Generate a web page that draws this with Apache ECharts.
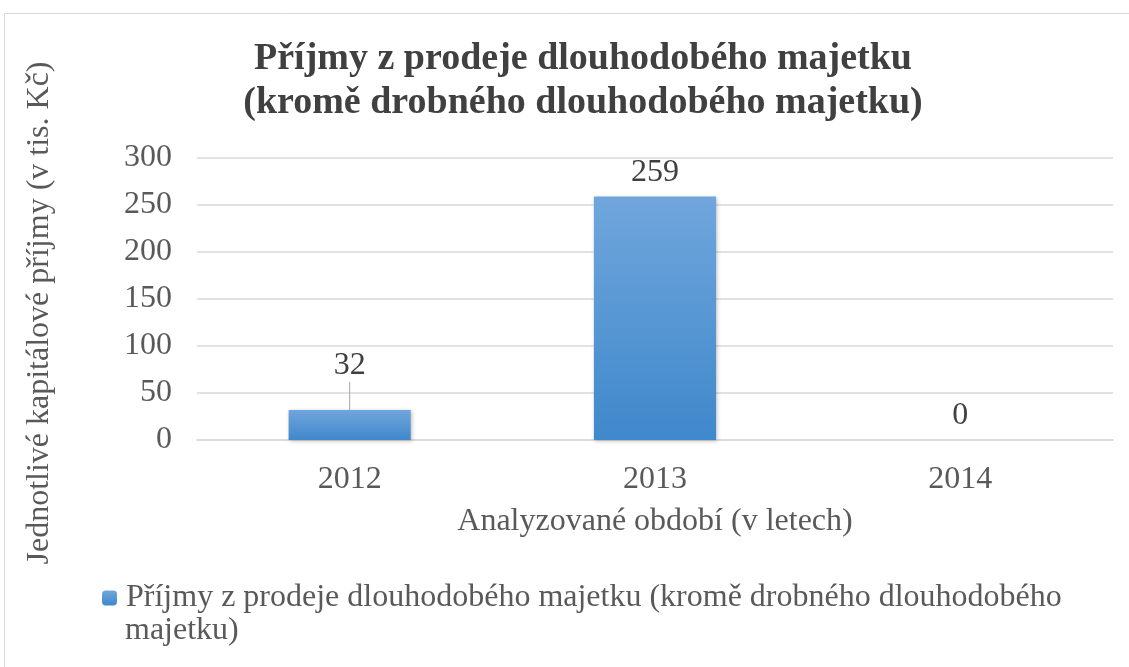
<!DOCTYPE html>
<html>
<head>
<meta charset="utf-8">
<script src="https://cdn.jsdelivr.net/npm/echarts@6/dist/echarts.min.js"></script>
<style>
  html, body { margin: 0; padding: 0; background: #fff; }
  #chart { width: 1129px; height: 667px; }
</style>
</head>
<body>
<div id="chart"></div>
<script>
const years = ['2012', '2013', '2014']
const values = [32, 259, 0]
const yTicks = [0, 50, 100, 150, 200, 250, 300]
const seriesName = 'Příjmy z prodeje dlouhodobého majetku (kromě drobného dlouhodobého majetku)'

const serif = '"Liberation Serif", "DejaVu Serif", serif'
const chart = echarts.init(document.getElementById('chart'))

// legenda se zalamuje na dva řádky, jako v originále
const legendLine1 = 'Příjmy z prodeje dlouhodobého majetku (kromě drobného dlouhodobého'
const legendLine2 = 'majetku)'

chart.setOption({
  animation: false,
  textStyle: { fontFamily: serif },
  title: {
    text: 'Příjmy z prodeje dlouhodobého majetku\n(kromě drobného dlouhodobého majetku)',
    left: 578,
    top: 32,
    textAlign: 'center',
    textStyle: { fontFamily: serif, fontSize: 38, fontWeight: 'bold', color: '#404040', lineHeight: 44 }
  },
  graphic: [
    {
      type: 'rect',
      shape: { x: 4.5, y: 13.5, width: 1140, height: 680 },
      style: { fill: 'none', stroke: '#d9d9d9', lineWidth: 1 },
      silent: true
    },
    {
      type: 'text',
      left: 125,
      top: 615,
      style: { text: legendLine2, fontFamily: serif, fontSize: 32, fill: '#595959' },
      silent: true
    }
  ],
  legend: {
    left: 97,
    top: 576,
    itemWidth: 15,
    itemHeight: 15,
    formatter: () => legendLine1,
    textStyle: { fontFamily: serif, fontSize: 32, color: '#595959', lineHeight: 34, padding: [0, 0, 0, 4] }
  },
  grid: { left: 197, right: 16, top: 158, bottom: 227 },
  xAxis: {
    type: 'category',
    data: years,
    axisTick: { show: false },
    axisLine: { lineStyle: { color: '#d9d9d9', width: 1.5 } },
    axisLabel: { fontSize: 32, color: '#595959', margin: 24 },
    name: 'Analyzované období (v letech)',
    nameLocation: 'middle',
    nameGap: 66,
    nameTextStyle: { fontSize: 32, color: '#595959' }
  },
  yAxis: {
    type: 'value',
    min: 0,
    max: 300,
    interval: 50,
    axisLine: { show: false },
    axisTick: { show: false },
    splitLine: { lineStyle: { color: '#d9d9d9', width: 1.5 } },
    axisLabel: { fontSize: 32, color: '#595959', margin: 25, formatter: v => yTicks.includes(v) ? String(v) : '' },
    name: 'Jednotlivé kapitálové příjmy (v tis. Kč)',
    nameLocation: 'middle',
    nameGap: 141,
    nameTextStyle: { fontSize: 32, color: '#595959', padding: [0, 28, 0, 0] }
  },
  series: [
    {
      name: seriesName,
      type: 'bar',
      barWidth: '40%',
      data: values.map((v, i) => i === 0
        ? { value: v, labelLine: { show: true, lineStyle: { color: '#a6a6a6', width: 1 } } }
        : { value: v }),
      labelLayout: params => params.dataIndex === 0 ? { dy: -20 } : {},
      labelLine: { show: false },
      itemStyle: {
        color: new echarts.graphic.LinearGradient(0, 0, 0, 1, [
          { offset: 0, color: '#70a6dc' },
          { offset: 1, color: '#3f88cb' }
        ]),
        shadowColor: 'rgba(0,0,0,0.25)',
        shadowBlur: 4,
        shadowOffsetX: 1,
        shadowOffsetY: 1
      },
      label: {
        show: true,
        position: 'top',
        distance: 8,
        fontSize: 32,
        color: '#404040',
        fontFamily: serif
      }
    }
  ]
})
</script>
</body>
</html>
